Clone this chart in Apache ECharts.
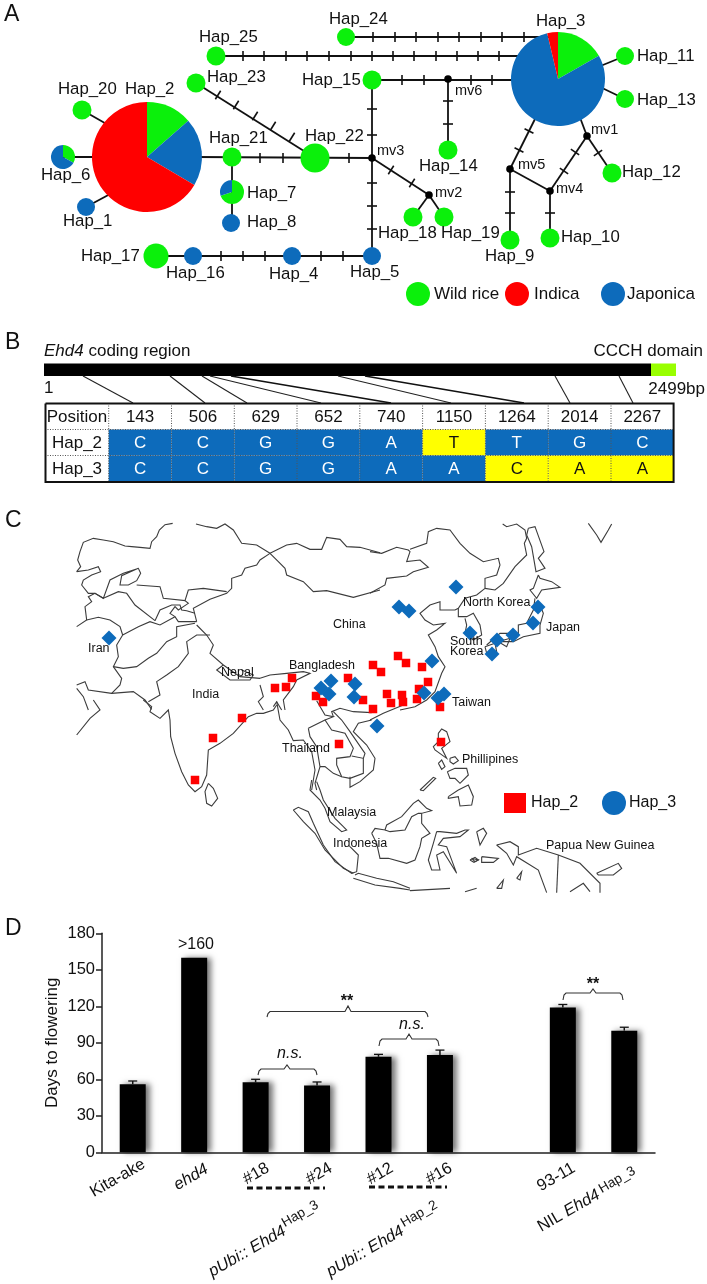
<!DOCTYPE html>
<html><head><meta charset="utf-8">
<style>html,body{margin:0;padding:0;background:#fff}#c{width:707px;height:1284px}</style>
<script src="https://cdn.jsdelivr.net/npm/echarts@6/dist/echarts.min.js"></script>
</head><body><div id="c"></div>
<script>
const FONT='"Liberation Sans",Arial,sans-serif';
const GREEN='#0bf00b',RED='#ff0000',BLUE='#0d6bbb',YELLOW='#ffff00',LIME='#99ff00',INK='#111';

// ---------- Panel D values ----------
const categories=['Kita-ake','ehd4','#18','#24','#12','#16','','93-11','NIL Ehd4'];
const flowering=[56,160,57.5,55,78.5,80,null,119,100];
const floweringTop=[58.6,null,60,57.8,80.5,84,null,121.5,102.8];

// ---------- Panel A: haplotype network ----------
const plainNodes=[ // name,x,y,radius,colour key
['Hap_25',216,56,9.5,'w'],['Hap_24',346,37,9,'w'],['Hap_23',196,83,9.5,'w'],['Hap_20',82,110,9.5,'w'],
['Hap_1',86,207,9,'j'],['Hap_21',232,157,9.5,'w'],['Hap_22',315,158,14.5,'w'],['Hap_8',231,223,9,'j'],
['Hap_17',156,256,12.5,'w'],['Hap_16',193,256,9,'j'],['Hap_4',292,256,9,'j'],['Hap_5',372,256,9,'j'],
['Hap_15',372,80,9.5,'w'],['Hap_14',448,150,9.5,'w'],['Hap_18',413,217,9.5,'w'],['Hap_19',444,217,9.5,'w'],
['Hap_9',510,240,9.5,'w'],['Hap_10',550,238,9.5,'w'],['Hap_12',612,173,9.5,'w'],['Hap_11',625,56,9,'w'],['Hap_13',625,99,9,'w'],
['mv6',448,79,3.8,'k'],['mv3',372,158,3.8,'k'],['mv2',429,195,3.8,'k'],['mv5',510,169,3.8,'k'],['mv4',550,191,3.8,'k'],['mv1',587,136,3.8,'k']];
const pies=[ // centre x,y, radius, wild, indica, japonica, order as drawn clockwise from 12 o'clock
{c:[147,157],r:55,v:[['w',13.5],['j',20],['i',66.5]]},
{c:[558,79],r:47,v:[['w',16.8],['j',79.5],['i',3.7]]},
{c:[63,157],r:12,v:[['w',33],['j',67]]},
{c:[232,192],r:12,v:[['w',70],['j',30]]}];
const edges=[
[[216,56],[525,56]],[[346,37],[550,37]],[[196,83],[315,158]],[[82,110],[110,126]],[[63,157],[100,157]],[[86,207],[112,193]],
[[195,157],[372,158]],[[232,157],[232,223]],[[156,256],[372,256]],[[372,80],[372,256]],[[372,80],[520,80]],[[448,79],[448,150]],
[[372,158],[429,195]],[[429,195],[413,217]],[[429,195],[444,217]],[[625,56],[598,67]],[[625,99],[598,86]],
[[537,115],[510,169]],[[579,115],[587,136]],[[587,136],[550,191]],[[510,169],[550,191]],[[587,136],[612,173]],[[510,169],[510,240]],[[550,191],[550,238]]];
const ticks=[ // x,y,direction of the carrying edge in degrees
[243,56,0],[264,56,0],[286,56,0],[307,56,0],[329,56,0],[351,56,0],[372,56,0],[393,56,0],[414,56,0],[436,56,0],[457,56,0],[478,56,0],[499,56,0],
[373,37,0],[395,37,0],[416,37,0],[438,37,0],[459,37,0],[481,37,0],[502,37,0],[524,37,0],
[402,80,0],[424,80,0],[471,80,0],[492,80,0],[448,101,90],[448,124,90],[372,109,90],[372,135,90],[372,183,90],[372,206,90],[372,229,90],
[391,170,33],[412,183,33],[218,95,32],[236,105,32],[255,116,32],[273,126,32],[292,137,32],[260,158,0],[283,158,0],[349,158,0],
[221,256,0],[243,256,0],[265,256,0],[321,256,0],[343,256,0],[529,131,-63],[519,150,-63],[575,152,-56],[564,171,-56],[598,153,56],
[510,192,90],[510,213,90],[550,213,90]];
const hapLabels=[
['Hap_25',199,37],['Hap_23',207,77],['Hap_20',58,89],['Hap_2',125,89],['Hap_21',209,138],['Hap_22',305,136],['Hap_6',41,175],
['Hap_7',247,193],['Hap_1',63,221],['Hap_8',247,222],['Hap_17',81,256],['Hap_16',166,273],['Hap_4',269,274],['Hap_15',302,80],['Hap_24',329,19],
['Hap_3',536,21],['Hap_11',637,56],['Hap_13',637,100],['Hap_14',419,166],['Hap_12',622,172],['Hap_18',378,233],['Hap_19',441,233],
['Hap_10',561,237],['Hap_9',485,256],['Hap_5',350,272]];
const mvLabels=[['mv6',455,91],['mv3',377,151],['mv2',435,193],['mv5',518,165],['mv4',556,189],['mv1',591,130]];
const groupLegend=[['Wild rice',418,294,'w',434],['Indica',517,294,'i',534],['Japonica',613,294,'j',627]];

// ---------- Panel B ----------
const positions=['143','506','629','652','740','1150','1264','2014','2267'];
const hap2Bases=['C','C','G','G','A','T','T','G','C'];
const hap3Bases=['C','C','G','G','A','A','C','A','A'];
const hap2Differs=[0,0,0,0,0,1,0,0,0];
const hap3Differs=[0,0,0,0,0,0,1,1,1];
const colEdges=[108.7,171.5,234.3,297,359.8,422.6,485.4,548.2,611,673.6];
const rowEdges=[403,429.5,455.5,482];
const thinLinks=[[[83,376],[133,403]],[[170,376],[205,403]],[[202,376],[247,403]],[[210,376],[321,403]],[[338,376],[451,403]],[[555,376],[570,403]],[[619,376],[633,403]]];
const thickLinks=[[[231,376],[391,403]],[[365,376],[524,403]]];

// ---------- Panel C: outlines, in zoom-crop units ----------
const outlineA=[ // origin 60,510
[338,40,315,44,298,60,290,80,275,95,270,115,240,112,215,110,195,108,160,95,130,90,100,85,70,97,60,125,53,150,62,170,50,185],
[50,185,85,180,115,170,122,185,95,195,70,210,65,225,85,250,105,250,130,265,150,210,190,190,235,175,242,190,230,212,205,225,180,225,185,197,235,175],
[230,225,300,230,310,265,375,272,385,240,430,235,500,245],
[408,42,440,50,470,55,495,42,520,60,545,100,590,105,630,130],
[630,130,600,150,590,165,555,175,545,195,515,205,515,235,500,250,450,268,400,295,410,335],
[630,130,655,155,675,175,680,195,730,215,760,245,800,242,880,262,960,240],
[630,130,680,105,710,100,750,118,785,118,800,82,840,88,860,110,900,112,960,128],
[130,265,105,250,85,260,95,275,75,290,80,330,50,350],
[80,330,115,322,150,330,180,350,188,375],
[130,265,175,245,200,250,225,285,285,332],
[188,375,170,405,175,440,160,470,185,505,180,525,155,550],
[188,375,235,350,270,335,300,345,345,320,355,335,410,335],
[160,470,190,475,230,470,265,445,290,430,320,395,350,380,350,350,405,340],
[50,525,75,515,85,540,155,550,220,545,255,570,275,598],
[50,535,70,560,85,600],
[450,375,410,375,380,395,385,430,355,470,320,495,290,515,300,555,265,575],
[410,345,440,375,460,405,450,430,490,465,540,500,600,505],
[490,465,470,480,510,510,570,510,580,495,545,480],
[600,505,630,495,680,490,730,485,750,490,710,510,700,530,670,570,675,600],
[600,525,610,560,595,575,610,600],[640,590,650,575,665,600],
[285,332,300,300,335,285,360,285,365,300,380,302,405,310],[375,272,385,280,355,300,345,290,330,310,345,320]];
const outlineB=[ // origin 370,510
[0,125,35,130,80,112,115,120,120,125,110,155,150,150,175,172,130,185,110,198,50,205,45,225,0,250],
[120,118,170,100,175,65,200,55,240,60,270,100,300,130,340,155,385,145,390,165,380,195,345,205,345,235],
[398,42,410,50,440,42,465,60,470,85,463,100,470,135,435,170,400,220,375,240,345,235],
[475,55,495,50,522,125,505,145,525,175,498,185,485,110,470,75,475,55],
[345,235,320,255,285,265,265,295,255,300,210,300,210,275,180,285,150,310,165,330,190,345,225,340,200,360,175,375,195,410,205,440,225,470,215,490,195,545,170,570,135,590,90,600],
[265,295,265,320,290,320,310,310,330,345,335,375,310,390,285,370,290,345,285,325],
[505,195,490,235,480,240,500,265,515,240,570,232,545,215,510,205,505,195],
[495,265,490,300,470,340,445,345,445,370,390,370,350,405],
[510,285,520,310,510,345,510,370,460,380,430,395,400,395,385,395,420,385,410,410,385,395],
[345,410,375,400,380,425,365,445,350,430,345,410],
[655,40,680,75,693,97,715,60,725,42]];
const outlineC=[ // origin 60,700
[250,0,275,20,270,35,300,55,325,30,330,60,332,110,345,160,365,215,385,255,405,275,425,260,440,225,445,150,480,130,520,100,565,50,590,40,610,40,640,30,650,15],
[100,0,120,30,90,55,50,105],
[445,250,435,275,440,310,455,318,473,295,460,265,445,250]];
const outlineD=[ // origin 370,700
[0,60,40,40,100,15],
[205,100,215,87,230,95,240,125,215,145,230,175,195,150,190,140,205,125,205,100],
[205,190,215,180,225,200,215,208,205,190],[240,175,255,170,265,182,250,192,240,185,240,175],
[232,215,255,205,290,205,295,225,270,250,255,235,240,235,232,215],
[235,290,265,270,295,255,310,290,305,315,270,318,265,290,235,295,235,290],
[150,270,190,232,197,235,160,272,150,270],
[320,395,340,385,350,400,330,435,320,395],[305,475,325,480,315,485,305,475],[335,470,385,475,370,487,335,487,335,470],
[380,435,420,425,445,440,445,465,500,445,565,465,630,490,690,550,690,578],
[380,435,410,460,430,495,440,470,505,510,530,578],[565,465,560,578],
[680,520,745,490,755,505,730,525,685,525,680,520],[440,535,455,515,450,540,440,535],[380,565,400,540,395,565,380,565],
[120,572,240,565],[285,575,320,565],[600,575,640,550,660,575]];
const outlineE=[ // origin 270,670: Indochina
[20,95,30,150,55,180,70,212,100,210,125,245,135,300,125,360],
[115,175,120,200,140,230,150,290,135,340,140,360],
[115,175,165,150,185,180,225,190,250,235,240,260,200,265,200,285,215,320,240,325,280,310,280,265,245,258],
[165,150,190,140,165,135,140,92],
[190,140,185,125,210,115,250,125,305,128],
[305,150,265,160,250,185,290,225,315,265,310,300,270,335,240,352,240,320],
[190,125,215,150,240,185,285,250,280,265],
[150,290,165,290,190,310,215,320]];
const outlineF=[ // origin 280,780: Malay peninsula, Sumatra, Java, Borneo, Sulawesi
[95,0,90,30,120,60,135,85,150,125,185,155,200,150,190,140,165,115,130,60,120,30,110,5],
[40,90,55,82,85,95,100,130,130,195,165,245,215,280,230,275,235,225,210,200],
[40,90,70,125,105,160,135,210,190,265,220,280],
[225,285,235,280,290,295,340,305,390,325],[220,295,285,315,360,325,390,330],
[275,160,285,145,315,150,320,135,365,110,400,70,415,60,440,85,455,92,425,100,425,130,450,160,425,175,420,200,405,240,380,250,325,235,300,235,290,190,275,160],
[315,150,330,155,375,150,395,110,415,100,425,100],
[470,155,460,190,445,240,455,270,480,270,470,225,490,215,530,280,500,200,475,195,490,175,540,170,565,150,555,150,530,160,480,155,470,155],
[570,240,585,232,595,240,582,247,570,240]];
const hap2Sites=[[373,665],[381,672],[348,678],[292,678],[286,687],[275,688],[316,696],[323,702],[363,700],[373,709],[398,656],[406,663],[422,667],[428,682],[419,689],[387,694],[402,695],[391,703],[403,702],[417,699],[440,707],[242,718],[213,738],[195,780],[339,744],[441,742]];
const hap3Sites=[[109,638],[331,681],[321,688],[329,694],[355,684],[354,697],[456,587],[399,607],[409,611],[470,633],[538,607],[533,623],[513,635],[497,640],[492,654],[432,661],[424,693],[438,698],[444,694],[377,726]];
const placeLabels=[['China',333,625],['Iran',88,649],['India',192,695],['Nepal',221,673],['Bangladesh',289,666],['Thailand',282,749],['Malaysia',327,813],['Indonesia',333,844],['Phillipines',462,760],['Papua New Guinea',546,846],['Taiwan',452,703],['South',450,642],['Korea',450,652],['North Korea',463,603],['Japan',546,628]];

const crop=(o,list)=>list.map(f=>{const p=[];for(let i=0;i<f.length;i+=2)p.push([o[0]+f[i]/3,o[1]+f[i+1]/3]);return p;});
const mapLines=[...crop([60,510],outlineA),...crop([370,510],outlineB),...crop([60,700],outlineC),...crop([370,700],outlineD),...crop([270,670],outlineE),...crop([280,780],outlineF)];

// ---------- Free text: [x,y,text,size,align,rotation,style key] ----------
const texts=[];
const add=(x,y,t,s,a,r,st)=>texts.push([x,y,t,s,a||'left',r||0,st||null]);
[['A',4,15],['B',5,343],['C',5,521],['D',5,929]].forEach(l=>add(l[1],l[2],l[0],23));
hapLabels.forEach(l=>add(l[1],l[2],l[0],16.8));
mvLabels.forEach(l=>add(l[1],l[2],l[0],14.5));
groupLegend.forEach(l=>add(l[4],l[2],l[0],17));
add(44,351,'{i|Ehd4} coding region',17,'left',0,17);
add(703,351,'CCCH domain',17,'right');
add(44,388,'1',17); add(705,389,'2499bp',17,'right');
add(77,417,'Position',17,'center'); add(77,443,'Hap_2',17,'center'); add(77,469,'Hap_3',17,'center');
placeLabels.forEach(l=>add(l[1],l[2],l[0],12.5));
add(531,803,'Hap_2',16); add(629,803,'Hap_3',16);
add(196,945,'>160',16,'center');
add(290,1054,'{i|n.s.}',16,'center',0,16); add(412,1025,'{i|n.s.}',16,'center',0,16);
add(347,1002,'**',16,'center',0,'b'); add(593,985,'**',16,'center',0,'b');
const ends=[[144,1163],[207,1168],[268,1167],[331,1167],[392,1167],[451,1167],null,[574,1167]];
categories.forEach((c,i)=>{ if(ends[i]) add(ends[i][0],ends[i][1],c==='ehd4'?'{i|ehd4}':c,16.5,'right',30,16.5); });
add(210,1273,'{i|pUbi:: Ehd4}',16.5,'left',30,16.5); add(283,1224,'Hap_3',13.5,'left',30);
add(328,1273,'{i|pUbi:: Ehd4}',16.5,'left',30,16.5); add(402,1224,'Hap_2',13.5,'left',30);
add(539,1228,'NIL {i|Ehd4}',16.5,'left',30,16.5); add(600,1190,'Hap_3',13.5,'left',30);

const colour=k=>({w:GREEN,i:RED,j:BLUE,k:'#000'}[k]);
const bracket=(x0,x1,yEnd,yTop,mid,peak)=>[[x0,yEnd],[x0+1,yTop+2],[x0+3,yTop],[mid-3,yTop],[mid,peak],[mid+3,yTop],[x1-3,yTop],[x1-1,yTop+2],[x1,yEnd]];
const brackets=[bracket(267,428,1017,1011.5,348,1006),bracket(258,317,1075,1069,287,1065),bracket(379,439,1046,1039,409,1034),bracket(563,623,1000,993,593,989)];
const dashes=[[[247,1188],[325,1188]],[[369,1187],[447,1187]]];

const OV={xAxisIndex:0,yAxisIndex:0};
const poly=(list,stroke,w,dash,z)=>({type:'custom',...OV,z,silent:true,clip:false,animation:false,
  data:list.map(p=>p[0]),
  renderItem:(pa,api)=>({type:'polyline',silent:true,shape:{points:list[pa.dataIndex].map(p=>api.coord(p))},style:{stroke,fill:null,lineWidth:w,lineDash:dash||null}})});

// table cells
const cells=[];
[hap2Differs,hap3Differs].forEach((d,r)=>d.forEach((m,c)=>cells.push([colEdges[c],rowEdges[r+1],colEdges[c+1],rowEdges[r+2],m])));
positions.forEach((p,c)=>add((colEdges[c]+colEdges[c+1])/2,417,p,17,'center'));
[hap2Bases,hap3Bases].forEach((b,r)=>b.forEach((t,c)=>{
  const d=(r?hap3Differs:hap2Differs)[c];
  add((colEdges[c]+colEdges[c+1])/2,r?469:443,t,17,'center',0,d?'k':'w');
}));
const grid=[];
colEdges.slice(0,-1).forEach(x=>grid.push([[x,403],[x,482]]));
grid.push([[45,429.5],[673.6,429.5]],[[45,455.5],[673.6,455.5]]);

const option={
  backgroundColor:'#fff',animation:false,
  textStyle:{fontFamily:FONT},
  grid:[{left:0,top:0,width:707,height:1284,show:false},{left:102,top:933.3,width:553,height:219,show:false}],
  xAxis:[{type:'value',min:0,max:707,show:false,gridIndex:0},
    {type:'category',gridIndex:1,data:categories,axisLabel:{show:false},
     axisLine:{lineStyle:{color:'#222',width:1.5}},axisTick:{length:4,lineStyle:{color:'#222',width:1.5}}}],
  yAxis:[{type:'value',min:0,max:1284,inverse:true,show:false,gridIndex:0},
    {type:'value',gridIndex:1,min:0,max:180,interval:30,splitLine:{show:false},
     name:'Days to flowering',nameLocation:'middle',nameGap:41,nameRotate:90,nameMoveOverlap:false,nameTextStyle:{fontSize:17,color:INK,fontFamily:FONT},
     axisLine:{show:true,lineStyle:{color:'#222',width:1.5}},axisTick:{show:true,length:6,lineStyle:{color:'#222',width:1.5}},
     axisLabel:{fontSize:16.5,color:INK,margin:7,fontFamily:FONT}}],
  series:[
    poly(mapLines,'#3c3c3c',1.1,null,1),
    poly(edges,INK,1.8,null,2),
    {type:'custom',...OV,z:2,silent:true,clip:false,data:ticks,
     renderItem:(pa,api)=>{const p=api.coord([api.value(0),api.value(1)]),a=(api.value(2)+90)*Math.PI/180,h=5;
       return {type:'line',shape:{x1:p[0]-h*Math.cos(a),y1:p[1]-h*Math.sin(a),x2:p[0]+h*Math.cos(a),y2:p[1]+h*Math.sin(a)},style:{stroke:INK,lineWidth:1.6}};}},
    ...pies.map(p=>({type:'pie',center:p.c,radius:[0,p.r],startAngle:90,clockwise:true,z:4,silent:true,label:{show:false},labelLine:{show:false},
      itemStyle:{borderWidth:0},data:p.v.map(v=>({value:v[1],itemStyle:{color:colour(v[0])}}))})),
    {type:'scatter',...OV,z:4,silent:true,clip:false,symbol:'circle',
     data:plainNodes.map(n=>({value:[n[1],n[2]],symbolSize:n[3]*2,itemStyle:{color:colour(n[4]),opacity:1}}))},
    {type:'scatter',...OV,z:4,silent:true,clip:false,symbol:'circle',symbolSize:24,
     data:groupLegend.map(n=>({value:[n[1],n[2]],itemStyle:{color:colour(n[3]),opacity:1}}))},
    // panel B
    {type:'custom',...OV,z:2,silent:true,clip:false,data:[[44,363.5,651,376,0],[651,363.5,676,376,1]],
     renderItem:(pa,api)=>{const a=api.coord([api.value(0),api.value(1)]),b=api.coord([api.value(2),api.value(3)]);
       return {type:'rect',shape:{x:a[0],y:a[1],width:b[0]-a[0],height:b[1]-a[1]},style:{fill:api.value(4)?LIME:'#000'}};}},
    poly(thinLinks,'#222',1.1,null,2),poly(thickLinks,'#111',1.7,null,2),
    {type:'custom',...OV,z:2,silent:true,clip:false,data:cells,
     renderItem:(pa,api)=>{const a=api.coord([api.value(0),api.value(1)]),b=api.coord([api.value(2),api.value(3)]);
       return {type:'rect',shape:{x:a[0],y:a[1],width:b[0]-a[0],height:b[1]-a[1]},style:{fill:api.value(4)?YELLOW:BLUE}};}},
    poly(grid,'#555',1,[1,1.5],3),
    poly([[[45.5,403.5],[673.6,403.5],[673.6,482],[45.5,482],[45.5,403.5]]],'#111',2,null,4),
    // panel C markers
    {type:'scatter',...OV,z:4,silent:true,clip:false,symbol:'rect',symbolSize:8.5,itemStyle:{color:RED,opacity:1},data:hap2Sites},
    {type:'scatter',...OV,z:4,silent:true,clip:false,symbol:'diamond',symbolSize:15,itemStyle:{color:BLUE,opacity:1},data:hap3Sites},
    {type:'scatter',...OV,z:4,silent:true,clip:false,symbol:'rect',symbolSize:[22,20],itemStyle:{color:RED,opacity:1},data:[[515,803]]},
    {type:'scatter',...OV,z:4,silent:true,clip:false,symbol:'circle',symbolSize:24,itemStyle:{color:BLUE,opacity:1},data:[[614,803]]},
    // panel D
    {type:'bar',xAxisIndex:1,yAxisIndex:1,barWidth:26,silent:true,z:3,data:flowering,
     itemStyle:{color:'#000',shadowColor:'rgba(0,0,0,0.55)',shadowBlur:6,shadowOffsetX:4,shadowOffsetY:0}},
    {type:'custom',xAxisIndex:1,yAxisIndex:1,z:4,silent:true,
     data:floweringTop.map((t,i)=>[i,flowering[i]==null?0:flowering[i],t==null?0:t]).filter(d=>d[2]>0),
     renderItem:(pa,api)=>{const a=api.coord([api.value(0),api.value(1)]),b=api.coord([api.value(0),api.value(2)]);
       return {type:'group',children:[
         {type:'line',shape:{x1:a[0],y1:a[1],x2:b[0],y2:b[1]},style:{stroke:INK,lineWidth:1.5}},
         {type:'line',shape:{x1:b[0]-4.5,y1:b[1],x2:b[0]+4.5,y2:b[1]},style:{stroke:INK,lineWidth:1.3}}]};}},
    poly(brackets,'#333',1.1,null,4),
    poly(dashes,'#111',3,[6,3.5],4),
    // all text
    {type:'custom',...OV,z:6,silent:true,clip:false,data:texts.map(t=>[t[0],t[1]]),
     renderItem:(pa,api)=>{const t=texts[pa.dataIndex],p=api.coord([t[0],t[1]]);
       let fill=INK,rich;
       if(t[6]==='w')fill='#fff';
       if(typeof t[6]==='number')rich={i:{fontStyle:'italic',fontSize:t[6],fontFamily:FONT,fill:INK}};
       return {type:'text',x:p[0],y:p[1],rotation:t[5]*Math.PI/180,
         style:{text:t[2],fontSize:t[3],fontFamily:FONT,fontWeight:t[6]==='b'?'bold':'normal',fill,align:t[4],verticalAlign:'middle',rich}};}}
  ]
};
const chart=echarts.init(document.getElementById('c'),null,{renderer:'canvas'});
chart.setOption(option);
</script></body></html>
